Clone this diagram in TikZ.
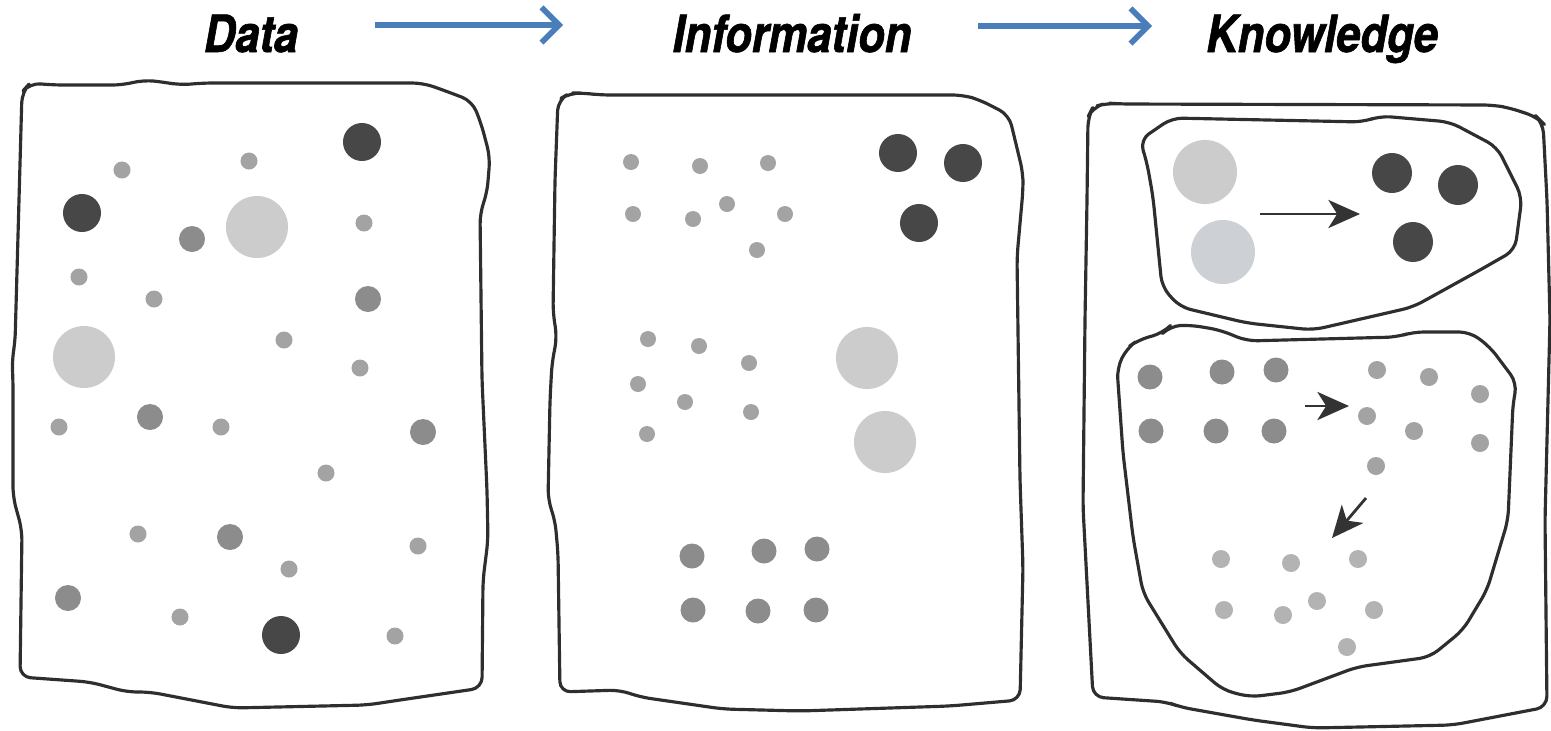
\documentclass[tikz,border=0pt]{standalone}
\usepackage{fontspec}
\newfontfamily\headfont[FakeStretch=0.85,FakeBold=1.2]{TeX Gyre Heros}
\usepackage{xcolor}
\usepackage{tikz}
\usetikzlibrary{arrows.meta}

\definecolor{flowblue}{HTML}{4A7EBB}
\definecolor{darkdot}{HTML}{474747}
\definecolor{middot}{HTML}{8C8C8C}
\definecolor{smalldot}{HTML}{A3A3A3}
\definecolor{lightdot}{HTML}{CCCCCC}
\definecolor{bluedot}{HTML}{CDD1D6}
\definecolor{paledot}{HTML}{B3B3B3}
\definecolor{frameline}{HTML}{2E2E2E}

\tikzset{
	title/.style={inner sep=0pt, anchor=base,
		font=\headfont\bfseries\itshape\fontsize{14.6}{16}\selectfont},
	flow/.style={draw=flowblue, line width=1.6pt, -{Straight Barb[length=5pt,width=10pt]}},
	frame/.style={draw=frameline, line width=.9pt, rounded corners=3pt, line join=round},
	move/.style={draw=black!80, line width=.8pt, -{Stealth[length=9pt,width=8pt,inset=2.5pt]}},
}

\begin{document}
\begin{tikzpicture}[x=0.01cm,y=-0.01cm]
		\useasboundingbox (0,0) rectangle (1551,730);
		%
		\node[title] (data) at (251,52) {Data};
		\node[title] (info) at (792,52) {Information};
		\node[title] (know) at (1322,52) {Knowledge};
		\coordinate (d2i-s) at (375,25);
		\coordinate (d2i-e) at (563,25);
		\coordinate (i2k-s) at (978,26);
		\coordinate (i2k-e) at (1152,26);
		% title arrows
		\draw[flow] (d2i-s) -- (d2i-e);
		\draw[flow] (i2k-s) -- (i2k-e);
		%
		% frames
		\draw[frame] (22,92) -- (30,83) -- (53,85) -- (123,85) -- (143,80) -- (163,82) -- (180,85)
			-- (203,83) -- (423,83) -- (443,90) -- (472,101) -- (481,123) -- (490,157)
			-- (487,193) -- (480,213) -- (482,380) -- (487,490) -- (488,540) -- (483,580) -- (482,688)
			-- (400,700) -- (367,705) -- (233,708) -- (150,692) -- (127,692) -- (90,682) -- (20,677)
			-- (22,530) -- (13,497) -- (13,380) -- (12,360) -- (15,343) -- (19,200) -- cycle;
		\draw[frame] (558,100) -- (570,93) -- (583,93) -- (600,95) -- (963,95) -- (980,100)
			-- (1009,115) -- (1023,173) -- (1023,190) -- (1017,257) -- (1020,480)
			-- (1023,567) -- (1020,700) -- (950,706) -- (800,711) -- (723,709) -- (640,697)
			-- (620,690) -- (560,692) -- (558,553) -- (555,520) -- (548,500) -- (550,400)
			-- (552,363) -- (557,337) -- (553,313) -- (555,180) -- cycle;
		\draw[frame] (1088,117) -- (1093,107) -- (1107,103) -- (1120,104) -- (1493,105) -- (1510,108)
			-- (1537,117) -- (1543,123) -- (1547,200) -- (1550,320) -- (1545,520) -- (1547,707)
			-- (1453,725) -- (1313,728) -- (1253,720) -- (1180,707) -- (1167,702) -- (1093,697)
			-- (1083,507) -- (1085,320) -- (1087,200) -- cycle;
		% groups in the knowledge frame
		\draw[frame] (1140,140) -- (1172,118) -- (1363,122) -- (1380,116) -- (1450,122) -- (1497,147)
			-- (1522,197) -- (1515,250) -- (1480,270) -- (1413,307) -- (1313,330) -- (1247,323)
			-- (1180,307) -- (1162,287) -- (1153,197) -- (1147,163) -- cycle;
		\draw[frame] (1117,368) -- (1127,348) -- (1138,340) -- (1163,333) -- (1170,326) -- (1190,325)
			-- (1220,330) -- (1247,341) -- (1397,337) -- (1413,332) -- (1470,332) -- (1490,347)
			-- (1517,383) -- (1513,403) -- (1508,520) -- (1487,590) -- (1463,630) -- (1430,657)
			-- (1357,667) -- (1290,692) -- (1250,697) -- (1223,690) -- (1180,653) -- (1143,593)
			-- (1133,537) -- (1123,453) -- cycle;
		%
		% data
		\foreach \x/\y in {362/142, 82/213, 281/635}
			\fill[darkdot] (\x,\y) circle[radius=.19cm];
		\foreach \x/\y in {257/227, 84/357}
			\fill[lightdot] (\x,\y) circle[radius=.31cm];
		\foreach \x/\y in {192/239, 368/299, 150/417, 423/432, 230/537, 68/598}
			\fill[middot] (\x,\y) circle[radius=.13cm];
		\foreach \x/\y in {122/170, 249/161, 364/223, 79/277, 154/299, 284/340, 360/368, 59/427,
			221/427, 326/473, 138/534, 418/546, 289/569, 180/617, 395/636}
			\fill[smalldot] (\x,\y) circle[radius=.085cm];
		%
		% information
		\foreach \x/\y in {898/153, 963/163, 919/223}
			\fill[darkdot] (\x,\y) circle[radius=.19cm];
		\foreach \x/\y in {867/358, 885/442}
			\fill[lightdot] (\x,\y) circle[radius=.31cm];
		\foreach \x/\y in {692/556, 764/551, 817/549, 693/610, 758/611, 816/610}
			\fill[middot] (\x,\y) circle[radius=.125cm];
		\foreach \x/\y in {631/162, 700/166, 768/163, 633/214, 693/219, 727/204, 785/214, 757/250,
			648/339, 699/346, 749/363, 638/384, 685/402, 751/412, 647/434}
			\fill[smalldot] (\x,\y) circle[radius=.08cm];
		%
		% knowledge
		\fill[lightdot] (1205,172) circle[radius=.32cm];
		\fill[bluedot] (1223,252) circle[radius=.32cm];
		\foreach \x/\y in {1392/173, 1458/185, 1413/242}
			\fill[darkdot] (\x,\y) circle[radius=.2cm];
		\foreach \x/\y in {1151/431, 1216/431, 1274/431, 1150/377, 1222/372, 1276/370}
			\fill[middot] (\x,\y) circle[radius=.125cm];
		\foreach \x/\y in {1377/370, 1429/377, 1480/394, 1367/416, 1414/431, 1480/443, 1376/466}
			\fill[smalldot] (\x,\y) circle[radius=.09cm];
		\foreach \x/\y in {1221/559, 1291/563, 1358/559, 1224/610, 1283/615, 1317/601, 1374/610,
			1347/647}
			\fill[paledot] (\x,\y) circle[radius=.09cm];
		\coordinate (m1-s) at (1260,214);
		\coordinate (m1-e) at (1360,214);
		\coordinate (m2-s) at (1305,406);
		\coordinate (m2-e) at (1349,406);
		\coordinate (m3-s) at (1366,498);
		\coordinate (m3-e) at (1332,538);
		% moves between groups
		\draw[move] (m1-s) -- (m1-e);
		\draw[move] (m2-s) -- (m2-e);
		\draw[move] (m3-s) -- (m3-e);
	\end{tikzpicture}
\end{document}
